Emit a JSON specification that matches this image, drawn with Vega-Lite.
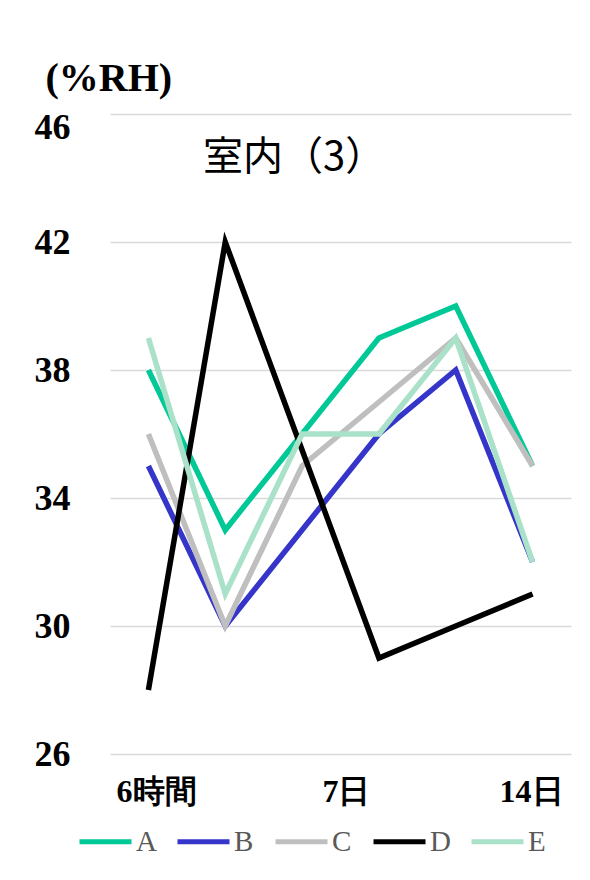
{
  "$schema": "https://vega.github.io/schema/vega-lite/v6.json",
  "width": 461,
  "height": 640,
  "autosize": "none",
  "padding": {"left": 110, "top": 114, "right": 19, "bottom": 126},
  "background": "white",
  "title": {
    "text": "室内（3）",
    "anchor": "start",
    "frame": "group",
    "font": "Noto Sans CJK JP",
    "fontSize": 40,
    "fontWeight": "normal",
    "color": "#000000",
    "baseline": "alphabetic",
    "dx": 93,
    "dy": 156
  },
  "config": {"view": {"stroke": null}},
  "data": {
    "values": [
      {"idx": 1, "series": "A", "rh": 38},
      {"idx": 2, "series": "A", "rh": 33},
      {"idx": 3, "series": "A", "rh": 36},
      {"idx": 4, "series": "A", "rh": 39},
      {"idx": 5, "series": "A", "rh": 40},
      {"idx": 6, "series": "A", "rh": 35},
      {"idx": 1, "series": "B", "rh": 35},
      {"idx": 2, "series": "B", "rh": 30},
      {"idx": 3, "series": "B", "rh": 33},
      {"idx": 4, "series": "B", "rh": 36},
      {"idx": 5, "series": "B", "rh": 38},
      {"idx": 6, "series": "B", "rh": 32},
      {"idx": 1, "series": "C", "rh": 36},
      {"idx": 2, "series": "C", "rh": 30},
      {"idx": 3, "series": "C", "rh": 35},
      {"idx": 4, "series": "C", "rh": 37},
      {"idx": 5, "series": "C", "rh": 39},
      {"idx": 6, "series": "C", "rh": 35},
      {"idx": 1, "series": "D", "rh": 28},
      {"idx": 2, "series": "D", "rh": 42},
      {"idx": 3, "series": "D", "rh": 35.5},
      {"idx": 4, "series": "D", "rh": 29},
      {"idx": 5, "series": "D", "rh": 30},
      {"idx": 6, "series": "D", "rh": 31},
      {"idx": 1, "series": "E", "rh": 39},
      {"idx": 2, "series": "E", "rh": 31},
      {"idx": 3, "series": "E", "rh": 36},
      {"idx": 4, "series": "E", "rh": 36},
      {"idx": 5, "series": "E", "rh": 39},
      {"idx": 6, "series": "E", "rh": 32}
    ]
  },
  "mark": {"type": "line", "strokeWidth": 5.5, "strokeCap": "butt", "strokeJoin": "miter"},
  "encoding": {
    "x": {
      "field": "idx",
      "type": "quantitative",
      "scale": {"domain": [0.5, 6.5], "nice": false, "zero": false},
      "axis": {
        "values": [1.1, 3.57, 5.98],
        "labelExpr": "datum.value < 2 ? '6時間' : datum.value < 5 ? '7日' : '14日'",
        "title": null,
        "grid": false,
        "ticks": false,
        "domain": false,
        "labelFont": "Liberation Serif",
        "labelFontSize": 32,
        "labelFontWeight": "bold",
        "labelColor": "#000000",
        "labelPadding": 22
      }
    },
    "y": {
      "field": "rh",
      "type": "quantitative",
      "scale": {"domain": [26, 46], "nice": false, "zero": false},
      "axis": {
        "values": [26, 30, 34, 38, 42, 46],
        "title": "(%RH)",
        "titleAngle": 0,
        "titleAlign": "left",
        "titleBaseline": "alphabetic",
        "titleX": -65,
        "titleY": -24,
        "titleFont": "Liberation Serif",
        "titleFontSize": 40,
        "titleFontWeight": "bold",
        "titleColor": "#000000",
        "labelFont": "Liberation Serif",
        "labelFontSize": 36,
        "labelFontWeight": "bold",
        "labelColor": "#000000",
        "labelAlign": "right",
        "labelPadding": 40,
        "labelOffset": {"condition": {"test": "datum.value == 46", "value": 13}, "value": 0},
        "ticks": false,
        "domain": false,
        "grid": true,
        "gridColor": "#D9D9D9",
        "gridWidth": 1.5
      }
    },
    "color": {
      "field": "series",
      "type": "nominal",
      "scale": {
        "domain": ["A", "B", "C", "D", "E"],
        "range": ["#00C896", "#3535C9", "#BFBFBF", "#000000", "#A9E2C8"]
      },
      "legend": {
        "orient": "none",
        "legendX": -33,
        "legendY": 699,
        "direction": "horizontal",
        "title": null,
        "symbolType": "stroke",
        "symbolSize": 2704,
        "symbolStrokeWidth": 5,
        "labelFont": "Liberation Serif",
        "labelFontSize": 29,
        "labelColor": "#595959",
        "labelOffset": 2,
        "columnPadding": 10,
        "gridAlign": "all"
      }
    }
  }
}
